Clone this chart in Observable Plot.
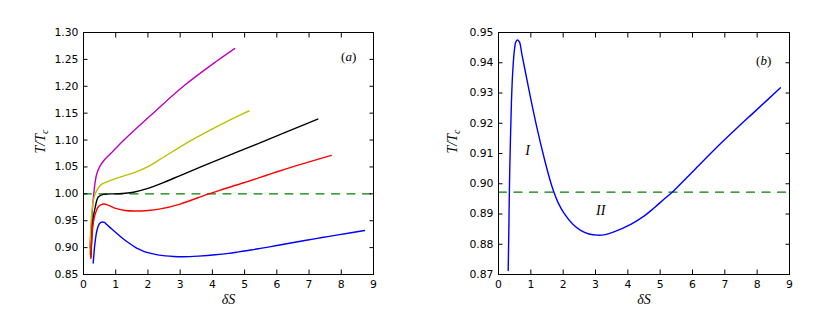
<!DOCTYPE html>
<html><head><meta charset="utf-8">
<script src="https://cdn.jsdelivr.net/npm/d3@7"></script>
<script src="https://cdn.jsdelivr.net/npm/@observablehq/plot@0.6"></script>
<style>
html,body{margin:0;padding:0;background:#fff;}
#wrap{display:flex;width:830px;height:323px;overflow:hidden;}
#wrap svg{display:block;}
</style></head><body><div id="wrap"></div>
<script>
// ---- data ----
const xTicks = [0,1,2,3,4,5,6,7,8,9];
const yTicksA = [0.85,0.90,0.95,1.00,1.05,1.10,1.15,1.20,1.25,1.30];
const yTicksB = [0.87,0.88,0.89,0.90,0.91,0.92,0.93,0.94,0.95];

const magentaS = [0.20,0.22,0.25,0.28,0.31,0.36,0.41,0.50,0.62,0.93,1.24,2.07,3.10,4.14,4.69];
const magentaT = [0.899,0.920,0.945,0.975,0.995,1.021,1.037,1.050,1.061,1.080,1.099,1.145,1.200,1.247,1.270];

const yellowS = [0.20,0.22,0.25,0.30,0.35,0.41,0.50,0.57,0.85,1.24,1.60,2.00,2.48,3.33,4.20,4.99,5.14];
const yellowT = [0.887,0.930,0.960,0.985,0.998,1.006,1.014,1.018,1.025,1.033,1.040,1.0505,1.068,1.099,1.127,1.150,1.154];

const blackS = [0.23,0.26,0.30,0.36,0.46,0.62,1.00,1.30,1.55,2.00,2.48,3.00,3.64,5.44,7.27];
const blackT = [0.883,0.920,0.955,0.974,0.994,0.999,1.000,1.001,1.003,1.010,1.021,1.034,1.050,1.094,1.139];

const redS = [0.23,0.26,0.30,0.36,0.45,0.55,0.64,0.80,1.00,1.30,1.57,2.00,2.39,3.00,3.84,4.25,5.00,6.11,7.69];
const redT = [0.880,0.920,0.945,0.962,0.975,0.980,0.981,0.978,0.973,0.969,0.968,0.969,0.972,0.981,0.999,1.007,1.021,1.043,1.0714];

const blueS = [0.30,0.32,0.34,0.37,0.40,0.44,0.49,0.54,0.59,0.65,0.72,0.82,1.00,1.20,1.41,1.60,1.72,1.85,2.03,2.30,2.54,2.80,3.06,3.30,3.57,4.09,4.50,4.81,5.10,5.43,6.05,6.87,7.40,7.90,8.72];
const blueT = [0.8713,0.885,0.900,0.915,0.927,0.937,0.944,0.947,0.9475,0.9468,0.943,0.9376,0.928,0.918,0.9086,0.9010,0.8970,0.8936,0.8902,0.8866,0.8846,0.8834,0.8830,0.8832,0.8841,0.8866,0.8893,0.8920,0.8947,0.8978,0.9045,0.9133,0.9187,0.9236,0.9317];

const dashA = 1.00;     // Maxwell line, panel (a)
const dashB = 0.8972;   // Maxwell line, panel (b)
const dashS = [0, 9];

const seriesA = [
  {name:"m", color:"#bf00bf", S:magentaS, T:magentaT},
  {name:"y", color:"#bfbf00", S:yellowS, T:yellowT},
  {name:"k", color:"#000000", S:blackS, T:blackT},
  {name:"r", color:"#ff0000", S:redS, T:redT},
  {name:"b", color:"#0000ff", S:blueS, T:blueT}
];

const toRows = (S, T) => S.map((s,i) => ({S:s, T:T[i]}));

const TICK_FONT = "DejaVu Sans";
const MATH_FONT = "Liberation Serif";

function axes(yTicks) {
  const common = {stroke:"black", strokeWidth:1};
  return [
    Plot.axisX(xTicks, {anchor:"bottom", tickSize:0, tickPadding:6, label:null, fontSize:10.8, fontFamily:TICK_FONT, fill:"black"}),
    Plot.axisY(yTicks, {anchor:"left", tickSize:0, tickPadding:5, label:null, fontSize:10.8, fontFamily:TICK_FONT, fill:"black", tickFormat:d3.format(".2f")}),
    Plot.axisX(xTicks, {anchor:"bottom", tickSize:-4.5, fill:"none", label:null, ...common}),
    Plot.axisX(xTicks, {anchor:"top", tickSize:-4.5, fill:"none", label:null, ...common}),
    Plot.axisY(yTicks, {anchor:"left", tickSize:-4.5, fill:"none", label:null, ...common}),
    Plot.axisY(yTicks, {anchor:"right", tickSize:-4.5, fill:"none", label:null, ...common})
  ];
}

function labels(yLabelDx) {
  return [
    Plot.text(["δS"], {frameAnchor:"bottom", dy:29, fontFamily:MATH_FONT, fontStyle:"italic", fontSize:14, fill:"black"}),
    Plot.text(["T/Tc"], {frameAnchor:"left", dx:yLabelDx, rotate:-90, fontFamily:MATH_FONT, fontStyle:"italic", fontSize:14, fill:"black"})
  ];
}

const CURVE = "catmull-rom";

const plotA = Plot.plot({
  width:415, height:323,
  marginLeft:83, marginRight:42, marginTop:32, marginBottom:49,
  x:{domain:[0,9], axis:null},
  y:{domain:[0.85,1.30], axis:null},
  style:{background:"white", fontFamily:TICK_FONT},
  marks:[
    Plot.lineY(dashS.map(s => ({S:s, T:dashA})), {x:"S", y:"T", stroke:"#008000", strokeWidth:1.3, strokeDasharray:"8,7.5"}),
    ...seriesA.map(d => Plot.line(toRows(d.S, d.T), {x:"S", y:"T", stroke:d.color, strokeWidth:1.4, curve:CURVE})),
    Plot.text(["(a)"], {x:[8.23], y:[1.2546], fontFamily:MATH_FONT, fontSize:13, fill:"black"}),
    ...labels(-43),
    ...axes(yTicksA),
    Plot.frame({stroke:"black", strokeWidth:1})
  ]
});

const plotB = Plot.plot({
  width:415, height:323,
  marginLeft:83, marginRight:41, marginTop:32, marginBottom:49,
  x:{domain:[0,9], axis:null},
  y:{domain:[0.87,0.95], axis:null},
  style:{background:"white", fontFamily:TICK_FONT},
  marks:[
    Plot.lineY(dashS.map(s => ({S:s, T:dashB})), {x:"S", y:"T", stroke:"#008000", strokeWidth:1.3, strokeDasharray:"8,7.5"}),
    Plot.line(toRows(blueS, blueT), {x:"S", y:"T", stroke:"#0000ff", strokeWidth:1.4, curve:CURVE}),
    Plot.text(["(b)"], {x:[8.2], y:[0.9408], fontFamily:MATH_FONT, fontSize:13, fill:"black"}),
    Plot.text(["I"], {x:[0.9], y:[0.911], fontFamily:MATH_FONT, fontStyle:"italic", fontSize:14, fill:"black"}),
    Plot.text(["II"], {x:[3.16], y:[0.891], fontFamily:MATH_FONT, fontStyle:"italic", fontSize:14, fill:"black"}),
    ...labels(-46),
    ...axes(yTicksB),
    Plot.frame({stroke:"black", strokeWidth:1})
  ]
});

// math-style formatting of some labels (subscript c, italic letter inside parentheses)
function fixText(svg) {
  svg.querySelectorAll("text").forEach(t => {
    const s = t.textContent;
    if (s === "T/Tc") {
      t.textContent = "";
      const a = document.createElementNS("http://www.w3.org/2000/svg","tspan");
      a.textContent = "T/T";
      const b = document.createElementNS("http://www.w3.org/2000/svg","tspan");
      b.textContent = "c"; b.setAttribute("font-size","10"); b.setAttribute("dy","3");
      t.appendChild(a); t.appendChild(b);
    } else if (s === "(a)" || s === "(b)") {
      t.textContent = "";
      const p1 = document.createElementNS("http://www.w3.org/2000/svg","tspan"); p1.textContent = "(";
      const m = document.createElementNS("http://www.w3.org/2000/svg","tspan"); m.textContent = s[1]; m.setAttribute("font-style","italic");
      const p2 = document.createElementNS("http://www.w3.org/2000/svg","tspan"); p2.textContent = ")";
      t.appendChild(p1); t.appendChild(m); t.appendChild(p2);
    }
  });
}
fixText(plotA); fixText(plotB);

const wrap = document.getElementById("wrap");
wrap.appendChild(plotA);
wrap.appendChild(plotB);
</script>
</body></html>
